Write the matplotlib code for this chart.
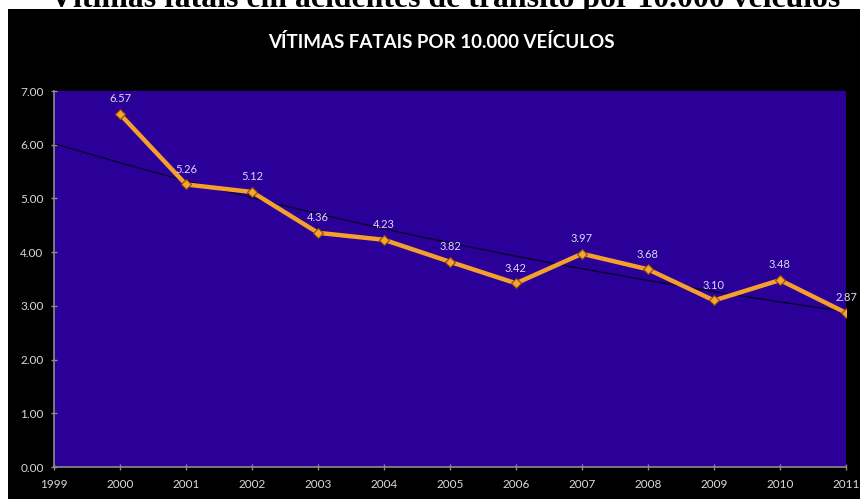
import numpy as np
import matplotlib
matplotlib.use("Agg")
import matplotlib.pyplot as plt

# data
years = [2000, 2001, 2002, 2003, 2004, 2005, 2006, 2007, 2008, 2009, 2010, 2011]
deaths_per_10k = [6.57, 5.26, 5.12, 4.36, 4.23, 3.82, 3.42, 3.97, 3.68, 3.10, 3.48, 2.87]
x_ticks = list(range(1999, 2012))
y_ticks = [0, 1, 2, 3, 4, 5, 6, 7]

page_title = "Vítimas fatais em acidentes de trânsito por 10.000 veículos"
chart_title = "VÍTIMAS FATAIS POR 10.000 VEÍCULOS"

W, H = 860, 499
fig = plt.figure(figsize=(W / 100, H / 100), dpi=100, facecolor="white")

# page heading, only its lower strip shows above the slide panel
fig.text(445 / W, 1 - 7 / H, page_title, ha="center", va="baseline",
         fontsize=22.9, fontweight="bold", family="Liberation Serif",
         color="black", zorder=-1)

# black slide panel behind the chart
bg = fig.add_axes([8 / W, 0, 1 - 8 / W, (H - 9) / H], zorder=0)
bg.set_facecolor("black")
bg.set_xticks([])
bg.set_yticks([])
for s in bg.spines.values():
    s.set_visible(False)

fig.text(441.5 / W, 1 - 41.5 / H, chart_title, ha="center", va="center",
         fontsize=13.5, fontweight="bold", family="Lato", color="white", zorder=5)

ax = fig.add_axes([54 / W, (H - 467) / H, (846 - 54) / W, (467 - 91) / H], zorder=2)
ax.set_facecolor("#2A0098")

# exponential trendline (Excel style) fitted on the series
coef = np.polyfit(years, np.log(deaths_per_10k), 1)
xt = np.linspace(x_ticks[0], x_ticks[-1], 200)
ax.plot(xt, np.exp(np.polyval(coef, xt)), color="#0A0030", lw=1.0, zorder=2)

ax.plot(years, deaths_per_10k, color="#F5A02C", lw=3.2, zorder=3,
        marker="D", markersize=5, markerfacecolor="#F7A531",
        markeredgecolor="#8A4A00", markeredgewidth=0.8, solid_capstyle="round")

for x, y in zip(years, deaths_per_10k):
    ax.annotate(f"{y:.2f}", (x, y), xytext=(0, 11), textcoords="offset points",
                ha="center", va="center", fontsize=8, family="Lato",
                color="#DCD8F5", zorder=4)

ax.set_xlim(x_ticks[0], x_ticks[-1])
ax.set_ylim(0, 7)
ax.set_xticks(x_ticks)
ax.set_yticks(y_ticks)
ax.set_yticklabels([f"{v:.2f}" for v in y_ticks])

for side in ("top", "right"):
    ax.spines[side].set_visible(False)
for side in ("left", "bottom"):
    ax.spines[side].set_color("#8C8C8C")
    ax.spines[side].set_linewidth(1.2)

ax.tick_params(axis="both", colors="#8C8C8C", labelcolor="#D9D9D9",
               labelsize=8.5, direction="inout", length=5, width=1)
ax.tick_params(axis="y", pad=5)
ax.tick_params(axis="x", pad=6)
for lab in ax.get_xticklabels() + ax.get_yticklabels():
    lab.set_family("Lato")

fig.savefig("out.png", dpi=100, facecolor=fig.get_facecolor())
